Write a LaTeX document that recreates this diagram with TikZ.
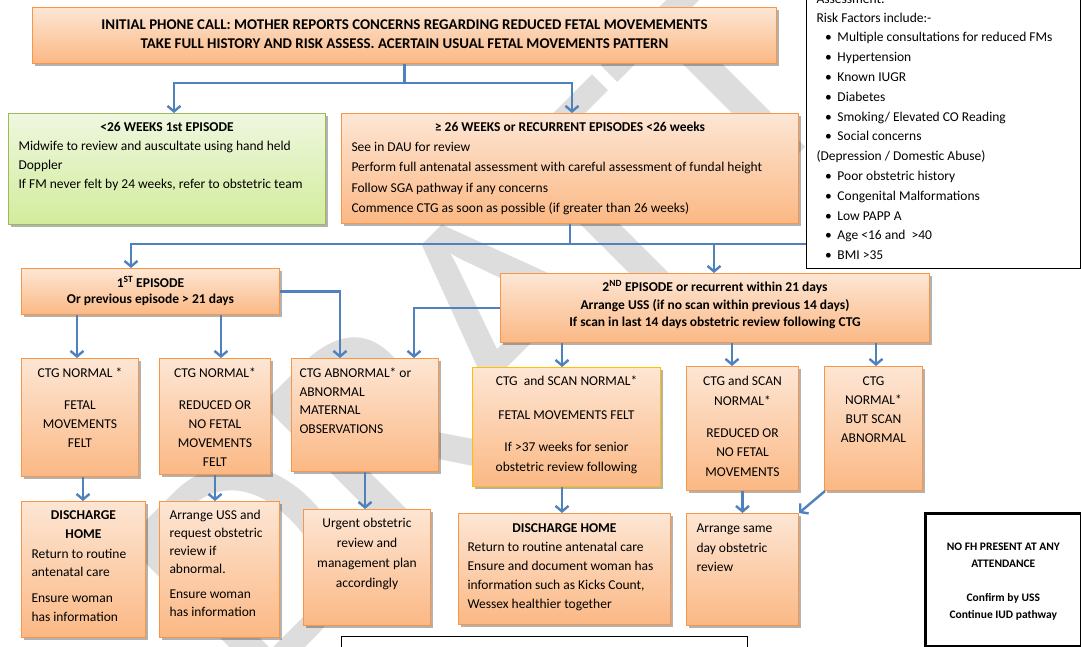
\documentclass[tikz,border=0pt]{standalone}
\usepackage{fontspec}
\setmainfont{Carlito}
\usetikzlibrary{arrows.meta,shadows}
\definecolor{obord}{HTML}{F79646}
\definecolor{otop}{HTML}{FDE6D4}
\definecolor{obot}{HTML}{FBB884}
\definecolor{gbord}{HTML}{9BBB59}
\definecolor{gtop}{HTML}{EFF7DF}
\definecolor{gbot}{HTML}{D2EC9C}
\definecolor{ybord}{HTML}{FFC000}
\definecolor{ablue}{HTML}{4F81BD}
\definecolor{wmark}{HTML}{DDDDDD}
\newcommand\bxt[4]{\begin{minipage}[c][#2pt][t]{#1pt}\raggedright\rule{0pt}{#3pt}#4\end{minipage}}
\newcommand\rbul{\makebox[21pt][l]{\hspace{8.5pt}\textbullet}}
\tikzset{
  fbox/.style={draw=obord, line width=1pt, top color=otop, bottom color=obot,
    inner xsep=10pt, inner ysep=0pt, anchor=north west,
    drop shadow={shadow xshift=2.5pt, shadow yshift=-2.5pt, opacity=0.3, fill=black}},
  gfbox/.style={fbox, draw=gbord, top color=gtop, bottom color=gbot},
  yfbox/.style={fbox, draw=ybord},
  wbox/.style={draw=black, fill=white, inner ysep=0pt, anchor=north west},
  conn/.style={draw=ablue, line width=2.4pt},
  arr/.style={conn, -{Straight Barb[length=5.5pt,width=13pt]}},
  txt/.style={font=\fontsize{13.5}{#1}\selectfont},
  btxt/.style={font=\bfseries\fontsize{13.5}{#1}\selectfont},
}
\begin{document}
\begin{tikzpicture}[x=1pt,y=-1pt]
\useasboundingbox (0,0) rectangle (1081,646);
\clip (0,0) rectangle (1081,646);
\node[rotate=45, text=wmark, font=\fontsize{315}{315}\selectfont, inner sep=0pt] (wm) at (480,330) {DRAFT};

% boxes
\node[fbox, font=\bfseries\fontsize{14.9}{19}\selectfont, inner xsep=3pt] (top) at (32,7) {\bxt{738}{56}{22}{\centering INITIAL PHONE CALL: MOTHER REPORTS CONCERNS REGARDING REDUCED FETAL MOVEMEMENTS\\TAKE FULL HISTORY AND RISK ASSESS. ACERTAIN USUAL FETAL MOVEMENTS PATTERN}};

\node[gfbox, txt=19] (green) at (8,113) {\bxt{297}{111}{18}{{\centering\textbf{<26 WEEKS 1st EPISODE}\par}Midwife to review and auscultate using hand held\\Doppler\\If FM never felt by 24 weeks, refer to obstetric team}};

\node[fbox, txt=20.2] (ge26) at (341,113) {\bxt{437}{110}{18}{{\centering\textbf{≥ 26 WEEKS or RECURRENT EPISODES <26 weeks}\par}See in DAU for review\\Perform full antenatal assessment with careful assessment of fundal height\\Follow SGA pathway if any concerns\\Commence CTG as soon as possible (if greater than 26 weeks)}};

\node[wbox, line width=1pt, inner xsep=10pt, txt=19.8] (risk) at (806,-15) {\bxt{254}{283}{18}{Assessment:\\[-1.2pt]Risk Factors include:-\\\rbul Multiple consultations for reduced FMs\\\rbul Hypertension\\\rbul Known IUGR\\\rbul Diabetes\\\rbul Smoking/ Elevated CO Reading\\\rbul Social concerns\\(Depression / Domestic Abuse)\\\rbul Poor obstetric history\\\rbul Congenital Malformations\\\rbul Low PAPP A\\\rbul Age <16 and\ \ >40\\\rbul BMI >35}};

\node[fbox, btxt=16, inner xsep=3pt] (ep1) at (21,268) {\bxt{252}{46}{19}{\centering 1\textsuperscript{ST} EPISODE\\Or previous episode > 21 days}};

\node[fbox, btxt=17.5, inner xsep=3pt] (ep2) at (500,273) {\bxt{423}{69}{18}{\centering 2\textsuperscript{ND} EPISODE or recurrent within 21 days\\Arrange USS (if no scan within previous 14 days)\\If scan in last 14 days obstetric review following CTG}};

\node[fbox, txt=19, inner xsep=3pt] (c1) at (21,358) {\bxt{111}{118}{19}{\centering CTG NORMAL *\\[13pt]FETAL\\MOVEMENTS\\FELT}};
\node[fbox, txt=19, inner xsep=3pt] (c2) at (159,358) {\bxt{105}{116}{19}{\centering CTG NORMAL*\\[13pt]REDUCED OR\\NO FETAL\\MOVEMENTS\\FELT}};
\node[fbox, txt=18.5, inner xsep=8pt] (c3) at (291,358) {\bxt{131}{113}{19}{CTG ABNORMAL* or\\ABNORMAL\\MATERNAL\\OBSERVATIONS}};
\node[yfbox, txt=20, inner xsep=3pt] (c4) at (472,367) {\bxt{182}{119}{18}{\centering CTG\ \ and SCAN NORMAL*\\[14pt]FETAL MOVEMENTS FELT\\[12pt]If >37 weeks for senior\\obstetric review following}};
\node[fbox, txt=19.5, inner xsep=3pt] (c5) at (686,366) {\bxt{106}{124}{19}{\centering CTG and SCAN\\NORMAL*\\[12.5pt]REDUCED OR\\NO FETAL\\MOVEMENTS}};
\node[fbox, txt=19, inner xsep=3pt] (c6) at (824,366) {\bxt{92}{124}{19}{\centering CTG\\NORMAL*\\BUT SCAN\\ABNORMAL}};

\node[fbox, txt=18.7] (d1) at (21,501) {\bxt{104}{136}{18}{{\centering\textbf{DISCHARGE}\\\textbf{HOME}\par}\vspace{1.3pt}Return to routine\\antenatal care\\[7pt]Ensure woman\\has information}};
\node[fbox, txt=18] (d2) at (159,501) {\bxt{100}{136}{18}{Arrange USS and\\request obstetric\\review if\\abnormal.\\[7pt]Ensure woman\\has information}};
\node[fbox, txt=20, inner xsep=3pt] (d3) at (303,509) {\bxt{121}{116}{18}{\centering Urgent obstetric\\review and\\management plan\\accordingly}};
\node[fbox, txt=19, inner xsep=9pt] (d4) at (458,513) {\bxt{194}{111}{19}{{\centering\textbf{DISCHARGE HOME}\par}Return to routine antenatal care\\Ensure and document woman has\\information such as Kicks Count,\\Wessex healthier together}};
\node[fbox, txt=19.5] (d5) at (686,513) {\bxt{92}{112}{19}{Arrange same\\day obstetric\\review}};

\node[wbox, line width=2.6pt, inner xsep=3pt, font=\bfseries\fontsize{11.5}{17}\selectfont] (nofh) at (924,512) {\bxt{150}{133}{37}{\centering NO FH PRESENT AT ANY\\ATTENDANCE\\[17pt]Confirm by USS\\Continue IUD pathway}};

\node[wbox, line width=1pt, minimum width=406pt, minimum height=40pt, inner sep=0pt] (foot) at (341,636) {};

% connector coordinates
\coordinate (bAl) at (174,83);
\coordinate (bAr) at (572,83);
\coordinate (bBl) at (131,244);
\coordinate (bBr) at (714,244);
\coordinate (x77) at (77,0);
\coordinate (x221) at (221,0);
\coordinate (x340) at (340,0);
\coordinate (x414) at (414,0);
\coordinate (x562) at (562,0);
\coordinate (x732) at (732,0);
\coordinate (x876) at (876,0);
\coordinate (x83) at (83,0);

% connectors
\draw[arr] (top.south) -- (top.south |- bAl) -| (green.north -| bAl);
\draw[arr] (top.south |- bAl) -| (ge26.north -| bAr);
\draw[arr] (ge26.south) -- (ge26.south |- bBl) -| (ep1.north -| bBl);
\draw[arr] (ge26.south |- bBl) -| (ep2.north -| bBr);
\draw[conn] (ge26.south |- bBr) -- (risk.west |- bBr);
\draw[arr] (ep1.south -| x77) -- (c1.north -| x77);
\draw[arr] (ep1.south -| x221) -- (c2.north -| x221);
\draw[arr] (ep1.east) -| (c3.north -| x340);
\draw[arr] (ep2.west) -| (c3.north -| x414);
\draw[arr] (ep2.south -| x562) -- (c4.north -| x562);
\draw[arr] (ep2.south -| x732) -- (c5.north -| x732);
\draw[arr] (ep2.south -| x876) -- (c6.north -| x876);
\draw[arr] (c1.south -| x83) -- (d1.north -| x83);
\draw[arr] (c2.south) -- (d2.north -| c2.south);
\draw[arr] (c3.south) -- (d3.north -| c3.south);
\draw[arr] (c4.south -| x562) -- (d4.north -| x562);
\draw[arr] (c5.south) -- (d5.north -| c5.south);
\draw[arr] ([xshift=1pt]c6.south west) -- (d5.north east);
\end{tikzpicture}
\end{document}
